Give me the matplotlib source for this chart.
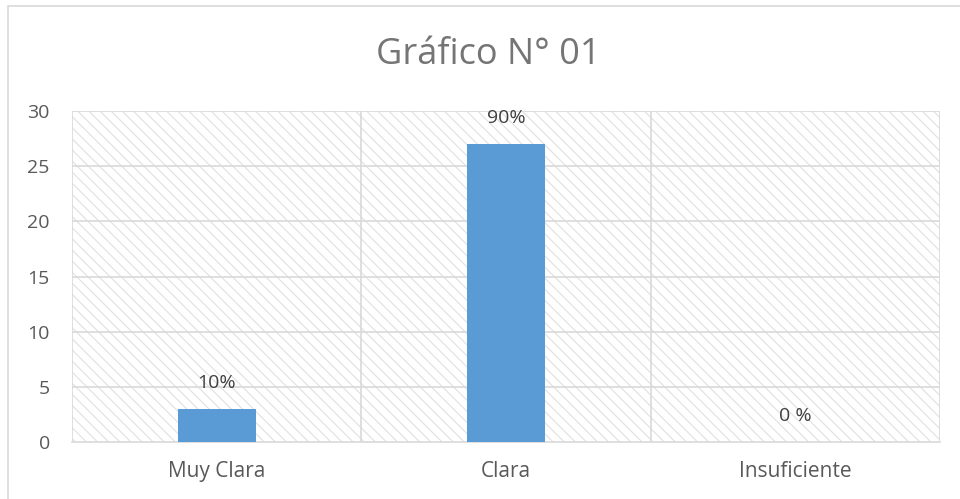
import matplotlib
matplotlib.use("Agg")
import matplotlib.pyplot as plt
from matplotlib.patches import Rectangle

# Datos del gráfico
categorias = ["Muy Clara", "Clara", "Insuficiente"]
valores = [3, 27, 0]
etiquetas = ["10%", "90%", "0 %"]
yticks = [0, 5, 10, 15, 20, 25, 30]

plt.rcParams['font.family'] = ['Open Sans', 'DejaVu Sans']
plt.rcParams['hatch.color'] = '#e0e0e0'
plt.rcParams['hatch.linewidth'] = 0.8

gris_texto = '#595959'
gris_linea = '#d9d9d9'

fig = plt.figure(figsize=(9.6, 4.99), dpi=100)

# Marco exterior del gráfico
marco = Rectangle((8 / 960, -0.1), 2, 1.1 - 6 / 499, transform=fig.transFigure,
                  facecolor='none', edgecolor=gris_linea, linewidth=1.2)
fig.patches.append(marco)

ax = fig.add_axes([72 / 960, 57 / 499, 868 / 960, 331 / 499])

# Fondo rayado del área de trazado
fondo = Rectangle((0, 0), 1, 1, transform=ax.transAxes, facecolor='white',
                  edgecolor='#e0e0e0', linewidth=0, hatch='\\\\\\', zorder=0)
ax.add_patch(fondo)

x = range(len(categorias))
barras = ax.bar(x, valores, width=0.27, color='#5b9bd5', zorder=3)

for xi, v, et in zip(x, valores, etiquetas):
    ax.annotate(et, (xi, v), xytext=(0, 19), textcoords='offset points',
                ha='center', va='center', fontsize=14, color='#404040', zorder=4)

ax.set_xlim(-0.5, len(categorias) - 0.5)
ax.set_ylim(0, 30)
ax.set_yticks(yticks)
ax.set_xticks(list(x))
ax.set_xticklabels(categorias)

for y in yticks[1:]:
    ax.axhline(y, color=gris_linea, linewidth=1.2, zorder=1)
for b in [-0.5, 0.5, 1.5, 2.5]:
    ax.axvline(b, color=gris_linea, linewidth=1.2, zorder=1)

for s in ['left', 'right', 'top']:
    ax.spines[s].set_visible(False)
ax.spines['bottom'].set_color(gris_linea)
ax.spines['bottom'].set_linewidth(1.2)
ax.spines['bottom'].set_zorder(2)

ax.tick_params(axis='both', length=0, labelcolor=gris_texto)
ax.tick_params(axis='x', pad=14, labelsize=15)
ax.tick_params(axis='y', pad=16, labelsize=14)

fig.text(488 / 960, 1 - 55 / 499, "Gráfico N° 01", ha='center', va='center',
         fontsize=26, color='#757575')

fig.savefig("out.png", dpi=100)
